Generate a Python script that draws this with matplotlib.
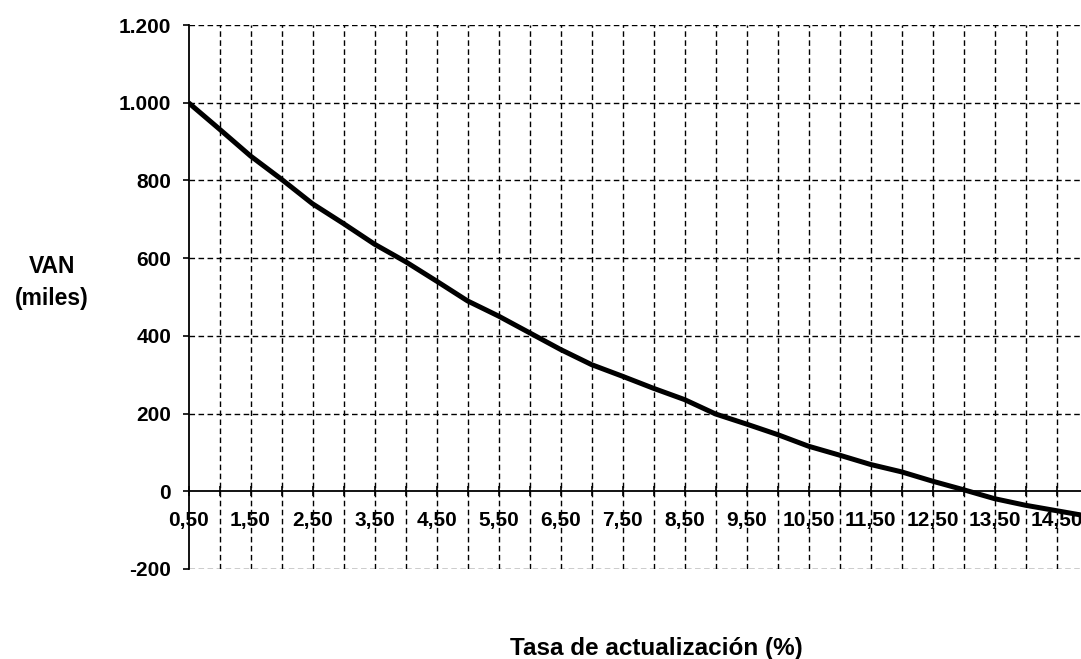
import matplotlib
matplotlib.use("Agg")
import matplotlib.pyplot as plt
from matplotlib.ticker import FixedLocator, FuncFormatter

# Discount rate (%) and net present value (thousands)
tasas = [0.5, 1.0, 1.5, 2.0, 2.5, 3.0, 3.5, 4.0, 4.5, 5.0,
         5.5, 6.0, 6.5, 7.0, 7.5, 8.0, 8.5, 9.0, 9.5, 10.0,
         10.5, 11.0, 11.5, 12.0, 12.5, 13.0, 13.5, 14.0, 14.5, 15.0]
van = [1000, 932, 863, 803, 740, 689, 636, 591, 541, 490,
       451, 408, 365, 326, 296, 265, 236, 199, 173, 146,
       116, 93, 69, 50, 26, 4, -19, -36, -50, -64]
etiquetas_x = ["0,50", "1,50", "2,50", "3,50", "4,50", "5,50", "6,50", "7,50",
               "8,50", "9,50", "10,50", "11,50", "12,50", "13,50", "14,50"]
y_ticks = [-200, 0, 200, 400, 600, 800, 1000, 1200]

plt.rcParams["font.family"] = ["Liberation Sans", "DejaVu Sans"]
plt.rcParams["font.weight"] = "bold"

fig = plt.figure(figsize=(10.81, 6.59), dpi=100)
ax = fig.add_axes([0.1744, 0.1366, 0.8256, 0.8254])

dash = (0, (4, 2.5))
ax.plot(tasas, van, color="black", lw=3.6, solid_capstyle="butt", zorder=5)

ax.set_xlim(0.5, 14.895)
ax.set_ylim(-200, 1200)

# dashed grid: vertical at each category, horizontal at each y tick
for t in tasas[1:]:
    ax.axvline(t, color="black", lw=1.0, linestyle=dash, zorder=1)
for v in y_ticks:
    if v != 0:
        ax.axhline(v, color="black", lw=1.0, linestyle=dash, zorder=1)

for s in ("top", "right"):
    ax.spines[s].set_visible(False)
ax.spines["bottom"].set_position(("data", 0))
ax.spines["bottom"].set_linewidth(1.3)
ax.spines["left"].set_linewidth(1.3)

ax.xaxis.set_major_locator(FixedLocator(tasas))
lab_map = {0.5 + i: s for i, s in enumerate(etiquetas_x)}
ax.xaxis.set_major_formatter(FuncFormatter(
    lambda x, p: next((s for k, s in lab_map.items() if abs(k - x) < 1e-6), "")))
ax.tick_params(axis="x", direction="inout", length=7, width=1.2, pad=10.5,
               labelsize=15)

ax.set_yticks(y_ticks)
ax.yaxis.set_major_formatter(FuncFormatter(
    lambda v, p: f"{int(v):,}".replace(",", ".")))
ax.tick_params(axis="y", direction="out", length=4.5, width=1.2, pad=8,
               labelsize=15)
for lab in ax.get_xticklabels() + ax.get_yticklabels():
    lab.set_fontweight("bold")

fig.text(0.048, 1 - 273 / 659, "VAN", ha="center", va="baseline",
         fontsize=16.5, fontweight="bold")
fig.text(0.048, 1 - 305 / 659, "(miles)", ha="center", va="baseline",
         fontsize=16.5, fontweight="bold")
fig.text(0.607, 1 - 655 / 659, "Tasa de actualización (%)", ha="center",
         va="baseline", fontsize=17.5, fontweight="bold")

fig.savefig("out.png", dpi=100)
